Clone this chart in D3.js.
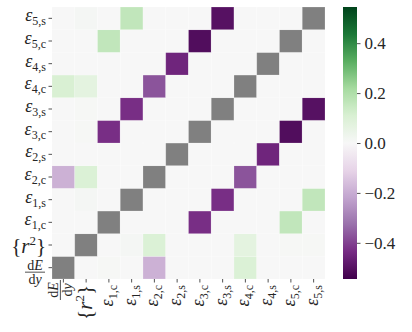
<!DOCTYPE html>
<html>
<head>
<meta charset="utf-8">
<script src="https://cdn.jsdelivr.net/npm/d3@7"></script>
<style>
  body { margin: 0; background: #fff; }
  text { font-family: "Liberation Serif", "DejaVu Serif", serif; fill: #262626; }
</style>
</head>
<body>
<svg id="chart" width="412" height="332"></svg>
<script>
// labels, bottom-to-top on the y axis and left-to-right on the x axis
var keys = ["dEdy", "r2", "e1c", "e1s", "e2c", "e2s", "e3c", "e3s", "e4c", "e4s", "e5c", "e5s"];
var epsSub = {e1c: "1,c", e1s: "1,s", e2c: "2,c", e2s: "2,s", e3c: "3,c", e3s: "3,s",
              e4c: "4,c", e4s: "4,s", e5c: "5,c", e5s: "5,s"};

// one row per key (same order as keys), null = diagonal
var row_dEdy = [null, 0, 0.005, 0, -0.19, 0, 0, 0, 0.1, 0, 0, 0];
var row_r2   = [0, null, 0, 0.01, 0.1, 0, 0, 0, 0.07, 0, 0.005, 0.005];
var row_e1c  = [0, 0, null, 0, 0, 0, -0.43, 0, 0, 0, 0.16, 0];
var row_e1s  = [0, 0.01, 0, null, 0, 0, 0, -0.43, 0, 0, 0, 0.16];
var row_e2c  = [-0.19, 0.1, 0, 0, null, 0, 0, 0, -0.37, 0, 0, 0];
var row_e2s  = [0, 0, 0, 0, 0, null, 0, 0, 0, -0.45, 0, 0];
var row_e3c  = [0, 0.005, -0.43, 0, 0, 0, null, 0, 0, 0, -0.51, 0];
var row_e3s  = [0, 0.005, 0, -0.43, 0, 0, 0, null, 0, 0, 0, -0.5];
var row_e4c  = [0.11, 0.07, 0, 0, -0.37, 0, 0, 0, null, 0, 0, 0];
var row_e4s  = [0, 0, 0, 0, 0, -0.45, 0, 0, 0, null, 0, 0];
var row_e5c  = [0, 0, 0.16, 0, 0, 0, -0.51, 0, 0, 0, null, 0];
var row_e5s  = [0, 0.01, 0, 0.16, 0, 0, 0, -0.5, 0, 0, 0, null];
var rows = [row_dEdy, row_r2, row_e1c, row_e1s, row_e2c, row_e2s,
            row_e3c, row_e3s, row_e4c, row_e4s, row_e5c, row_e5s];

var vmax = 0.545;
var cbTicks = [-0.4, -0.2, 0.0, 0.2, 0.4];
var prgn = ["#40004b", "#762a83", "#9970ab", "#c2a5cf", "#e7d4e8", "#f7f7f7",
            "#d9f0d3", "#a6dba0", "#5aae61", "#1b7837", "#00441b"];

var hm = {left: 52, right: 325, top: 7, bottom: 279};
var cb = {left: 343, width: 14};

var svg = d3.select("#chart");

var x = d3.scaleBand().domain(keys).range([hm.left, hm.right]);
var y = d3.scaleBand().domain(keys).range([hm.bottom, hm.top]);
var color = d3.scaleLinear()
  .domain(d3.range(prgn.length).map(function(i) { return -vmax + 2 * vmax * i / (prgn.length - 1); }))
  .range(prgn)
  .interpolate(d3.interpolateRgb)
  .clamp(true);

var cells = [];
rows.forEach(function(r, i) {
  r.forEach(function(v, j) {
    cells.push({row: keys[i], col: keys[j], v: v});
  });
});

svg.append("g").selectAll("rect")
  .data(cells)
  .enter().append("rect")
  .attr("x", function(d) { return x(d.col); })
  .attr("y", function(d) { return y(d.row); })
  .attr("width", x.bandwidth())
  .attr("height", y.bandwidth())
  .attr("fill", function(d) { return d.v === null ? "#808080" : color(d.v); })
  .attr("stroke", "#fff")
  .attr("stroke-opacity", 0.25)
  .attr("stroke-width", 0.8);

// fraction dE/dy, centred on (0,0) horizontally, rule at y = lineY
function fraction(g, lineY) {
  var num = g.append("text").attr("text-anchor", "middle").attr("y", lineY - 2.5).style("font-size", "14px");
  num.append("tspan").text("d");
  num.append("tspan").style("font-style", "italic").text("E");
  g.append("line").attr("x1", -10).attr("x2", 10).attr("y1", lineY).attr("y2", lineY)
    .attr("stroke", "#262626").attr("stroke-width", 0.8);
  var den = g.append("text").attr("text-anchor", "middle").attr("y", lineY + 11.5).style("font-size", "14px");
  den.append("tspan").text("d");
  den.append("tspan").style("font-style", "italic").text("y");
}

// label builder, anchored at its end; base = baseline offset for the main text
function label(g, key, base) {
  if (key === "r2") {
    var t = g.append("text").attr("text-anchor", "end").attr("y", base + 2).style("font-size", "21px");
    t.append("tspan").text("{");
    t.append("tspan").style("font-style", "italic").text("r");
    t.append("tspan").attr("dy", -8).style("font-size", "13px").text("2");
    t.append("tspan").attr("dy", 8).text("}");
  } else {
    var e = g.append("text").attr("text-anchor", "end").attr("y", base).style("font-size", "18px");
    e.append("tspan").style("font-style", "italic").text("\u03b5");
    e.append("tspan").attr("dy", 4).style("font-size", "12px").text(epsSub[key]);
  }
}

// y axis
var yAx = svg.append("g");
keys.forEach(function(k) {
  var cy = y(k) + y.bandwidth() / 2;
  yAx.append("line").attr("x1", hm.left - 3.5).attr("x2", hm.left).attr("y1", cy).attr("y2", cy)
    .attr("stroke", "#262626").attr("stroke-width", 0.8);
  if (k === "dEdy") {
    fraction(yAx.append("g").attr("transform", "translate(" + (hm.left - 17) + "," + cy + ")"), 4.5);
  } else {
    label(yAx.append("g").attr("transform", "translate(" + (hm.left - 6) + "," + cy + ")"), k, k === "r2" ? 6 : 3);
  }
});

// x axis, labels rotated
var xAx = svg.append("g");
keys.forEach(function(k) {
  var cx = x(k) + x.bandwidth() / 2;
  xAx.append("line").attr("x1", cx).attr("x2", cx).attr("y1", hm.bottom).attr("y2", hm.bottom + 3.5)
    .attr("stroke", "#262626").attr("stroke-width", 0.8);
  if (k === "dEdy") {
    fraction(xAx.append("g").attr("transform", "translate(" + cx + "," + (hm.bottom + 11) + ") rotate(-90)"), -3);
  } else {
    label(xAx.append("g").attr("transform", "translate(" + cx + "," + (hm.bottom + 6) + ") rotate(-90)"), k, 4);
  }
});

// colorbar
var cbY = d3.scaleLinear().domain([-vmax, vmax]).range([hm.bottom, hm.top]);
var grad = svg.append("defs").append("linearGradient")
  .attr("id", "cbgrad").attr("x1", 0).attr("x2", 0).attr("y1", 1).attr("y2", 0);
d3.range(0, 1.0001, 0.02).forEach(function(t) {
  grad.append("stop").attr("offset", t).attr("stop-color", color(-vmax + 2 * vmax * t));
});
svg.append("rect")
  .attr("x", cb.left).attr("y", hm.top)
  .attr("width", cb.width).attr("height", hm.bottom - hm.top)
  .attr("fill", "url(#cbgrad)");

var cbAxis = d3.axisRight(cbY)
  .tickValues(cbTicks)
  .tickSize(3.5)
  .tickPadding(4)
  .tickFormat(function(d) { return d3.format(".1f")(d).replace("-", "\u2212"); });
var cbG = svg.append("g")
  .attr("transform", "translate(" + (cb.left + cb.width) + ",0)")
  .call(cbAxis);
cbG.select(".domain").remove();
cbG.selectAll("line").attr("stroke", "#262626").attr("stroke-width", 0.8);
cbG.selectAll("text")
  .attr("fill", "#262626")
  .style("font-family", "'Liberation Serif', serif")
  .style("font-size", "17px");
</script>
</body>
</html>
